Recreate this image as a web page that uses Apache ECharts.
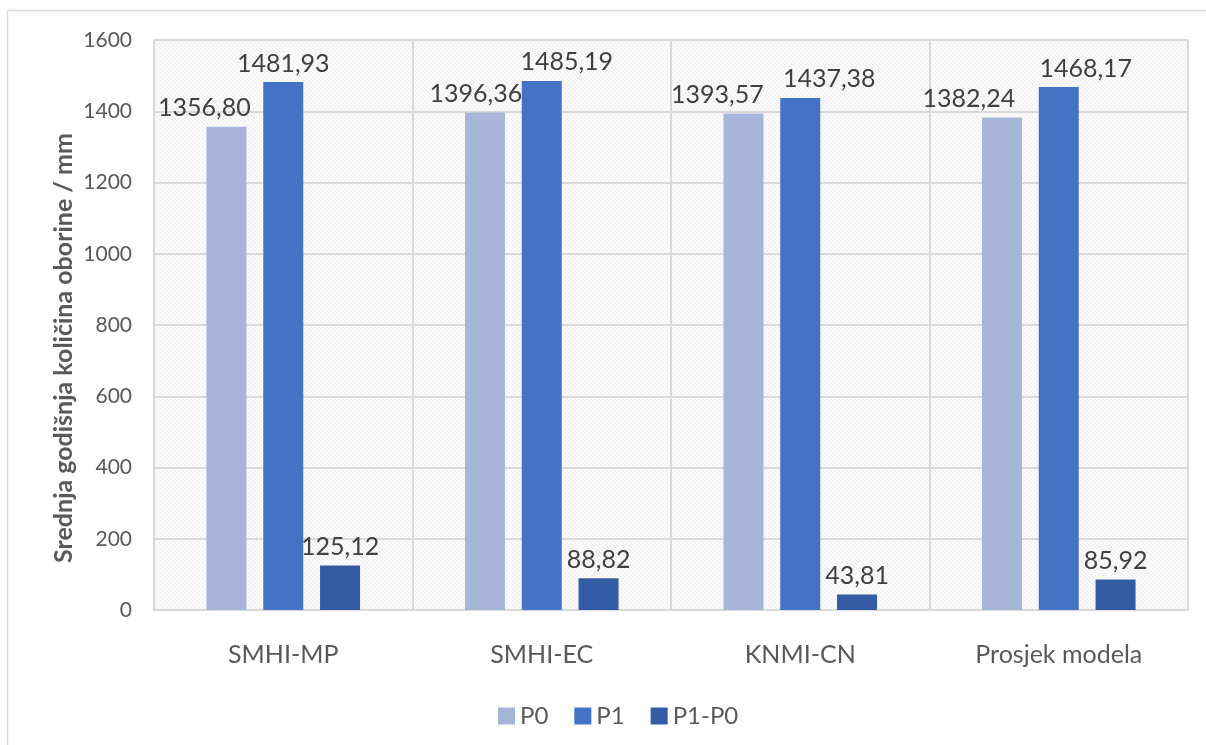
<!DOCTYPE html>
<html>
<head>
<meta charset="utf-8">
<script src="https://cdn.jsdelivr.net/npm/echarts@6/dist/echarts.min.js"></script>
<style>
  html, body { margin: 0; padding: 0; background: #fff; }
  #main { width: 1206px; height: 745px; }
</style>
</head>
<body>
<div id="main"></div>
<script>
const categories = ['SMHI-MP', 'SMHI-EC', 'KNMI-CN', 'Prosjek modela'];
const p0 = [1356.80, 1396.36, 1393.57, 1382.24];
const p1 = [1481.93, 1485.19, 1437.38, 1468.17];
const diff = [125.12, 88.82, 43.81, 85.92];
const yTicks = { min: 0, max: 1600, interval: 200 };
// labels nudged sideways in the original so they don't collide
const p0Shift = [-22, -9, -26, -33];
const p1Shift = [0, 25, 29, 27];

// light woven hatch for the plot background
function makePattern() {
  const c = document.createElement('canvas');
  c.width = 8; c.height = 8;
  const ctx = c.getContext('2d');
  ctx.fillStyle = '#fbfbfb';
  ctx.fillRect(0, 0, 8, 8);
  ctx.fillStyle = '#ececec';
  for (let i = 0; i < 8; i++) {
    ctx.fillRect(i, i, 1, 1);
    ctx.fillRect((i + 4) % 8, i, 1, 1);
  }
  return c;
}

const font = 'Lato, "Open Sans", sans-serif';
const fmt = v => v.toFixed(2).replace('.', ',');

const chart = echarts.init(document.getElementById('main'));
const lbl = {
  show: true,
  position: 'top',
  distance: 6,
  color: '#404040',
  fontSize: 25,
  fontFamily: font,
  formatter: p => fmt(p.value)
};
const withShift = (vals, shift) => vals.map((v, i) => ({ value: v, label: { offset: [shift[i], 0] } }));

chart.setOption({
  backgroundColor: '#fff',
  textStyle: { fontFamily: font },
  graphic: [
    { type: 'line', shape: { x1: 7.5, y1: 10.5, x2: 1206, y2: 10.5 }, style: { stroke: '#d9d9d9', lineWidth: 1.5 } },
    { type: 'line', shape: { x1: 7.5, y1: 10.5, x2: 7.5, y2: 745 }, style: { stroke: '#d9d9d9', lineWidth: 1.5 } },
    {
      type: 'text', x: 64, y: 348, rotation: Math.PI / 2,
      style: {
        text: 'Srednja godišnja količina oborine / mm',
        fill: '#595959', font: 'bold 25px ' + font,
        align: 'center', verticalAlign: 'middle'
      }
    }
  ],
  grid: {
    left: 154, right: 18, top: 40, bottom: 135,
    show: true,
    borderWidth: 0,
    backgroundColor: { image: makePattern(), repeat: 'repeat' }
  },
  legend: {
    bottom: 12,
    left: 493,
    icon: 'rect',
    itemWidth: 17,
    itemHeight: 17,
    itemGap: 26,
    textStyle: { color: '#595959', fontSize: 24, fontFamily: font },
    data: ['P0', 'P1', 'P1-P0']
  },
  xAxis: {
    type: 'category',
    data: categories,
    axisLine: { show: true, lineStyle: { color: '#d9d9d9', width: 2 } },
    axisTick: { show: false },
    splitLine: { show: true, lineStyle: { color: '#d9d9d9', width: 2 } },
    axisLabel: { color: '#595959', fontSize: 25, fontFamily: font, margin: 32 }
  },
  yAxis: {
    type: 'value',
    min: yTicks.min,
    max: yTicks.max,
    interval: yTicks.interval,
    axisLine: { show: false },
    axisTick: { show: false },
    splitLine: { lineStyle: { color: '#d9d9d9', width: 2 } },
    axisLabel: { color: '#595959', fontSize: 21, fontFamily: font, margin: 22, formatter: v => String(v) }
  },
  series: [
    { name: 'P0', type: 'bar', data: withShift(p0, p0Shift), barWidth: 40, barGap: '42%', itemStyle: { color: '#a7b5d9' }, label: lbl },
    { name: 'P1', type: 'bar', data: withShift(p1, p1Shift), barWidth: 40, itemStyle: { color: '#4472c4' }, label: lbl },
    { name: 'P1-P0', type: 'bar', data: diff, barWidth: 40, itemStyle: { color: '#345ca5' }, label: lbl }
  ]
});
</script>
</body>
</html>
